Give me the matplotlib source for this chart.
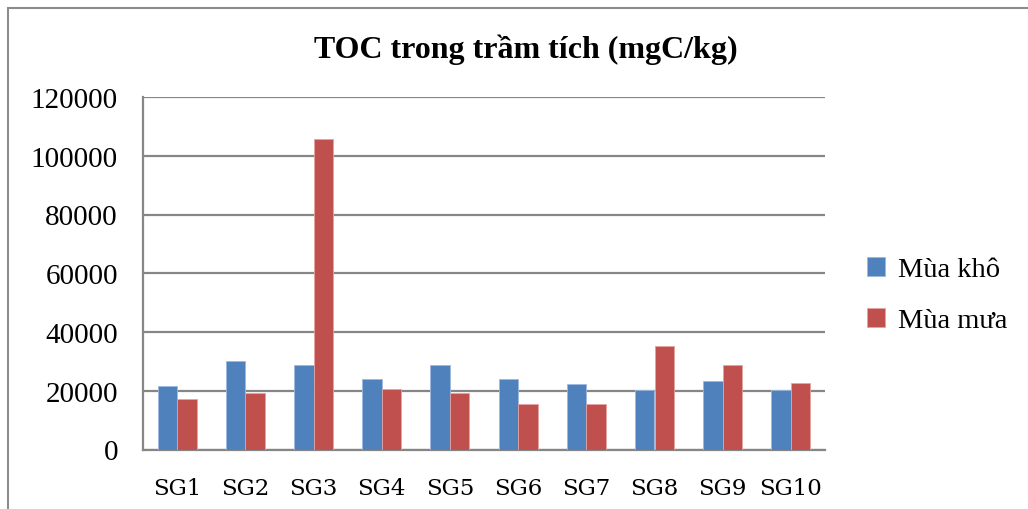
import matplotlib.pyplot as plt
import numpy as np
from matplotlib.patches import Rectangle

# TOC trong tram tich, mgC/kg
sites = ["SG1", "SG2", "SG3", "SG4", "SG5", "SG6", "SG7", "SG8", "SG9", "SG10"]
muaKho = [21500, 30100, 28800, 24000, 28800, 23900, 22200, 20100, 23300, 20100]
muaMua = [17100, 19200, 105800, 20500, 19100, 15500, 15400, 35200, 28700, 22600]
yTicks = [0, 20000, 40000, 60000, 80000, 100000, 120000]

blue = "#4F81BD"
red = "#C0504D"
gridColor = "#868686"

W, H = 1028, 510
fig = plt.figure(figsize=(W / 100, H / 100), dpi=100)
ax = fig.add_axes([143 / W, 1 - 450.5 / H, (825 - 143) / W, (450.5 - 98) / H])

x = np.arange(len(sites))
barW = 1 / 3.5
ax.bar(x - barW / 2, muaKho, barW, color=blue, edgecolor="#9DB9DD", linewidth=0.6, label="Mùa khô", zorder=3)
ax.bar(x + barW / 2, muaMua, barW, color=red, edgecolor="#E2A4A2", linewidth=0.6, label="Mùa mưa", zorder=3)

ax.set_xlim(-0.5, len(sites) - 0.5)
ax.set_ylim(0, 120000)
ax.set_yticks(yTicks)
ax.set_yticklabels([str(v) for v in yTicks], fontfamily="Liberation Serif", fontsize=21)
ax.set_xticks(x)
ax.set_xticklabels(sites, fontfamily="DejaVu Serif", fontsize=16.5)
ax.tick_params(axis="both", length=0)
ax.tick_params(axis="y", pad=18)
ax.tick_params(axis="x", pad=20)

ax.grid(axis="y", color=gridColor, linewidth=1.6, zorder=0)
for side in ["top", "right"]:
    ax.spines[side].set_visible(False)
ax.spines["left"].set_color(gridColor)
ax.spines["left"].set_linewidth(1.6)
ax.spines["bottom"].set_color(gridColor)
ax.spines["bottom"].set_linewidth(1.6)

fig.text(526 / W, 1 - 50 / H, "TOC trong trầm tích (mgC/kg)", ha="center", va="center",
         fontfamily="Liberation Serif", fontweight="bold", fontsize=23)

leg = fig.legend(loc="center left", bbox_to_anchor=(841 / W, 1 - 296 / H), frameon=False,
                 prop={"family": "Liberation Serif", "size": 20.5}, handlelength=0.65,
                 handleheight=0.65, handletextpad=0.45, labelspacing=0.9)

# khung vien ngoai cua bieu do
fig.patches.append(Rectangle((8 / W, -0.1), 1.2, 1 - 9 / H + 0.1, transform=fig.transFigure,
                             fill=False, edgecolor="#8C8C8C", linewidth=1.5))

fig.savefig("out.png", dpi=100)
